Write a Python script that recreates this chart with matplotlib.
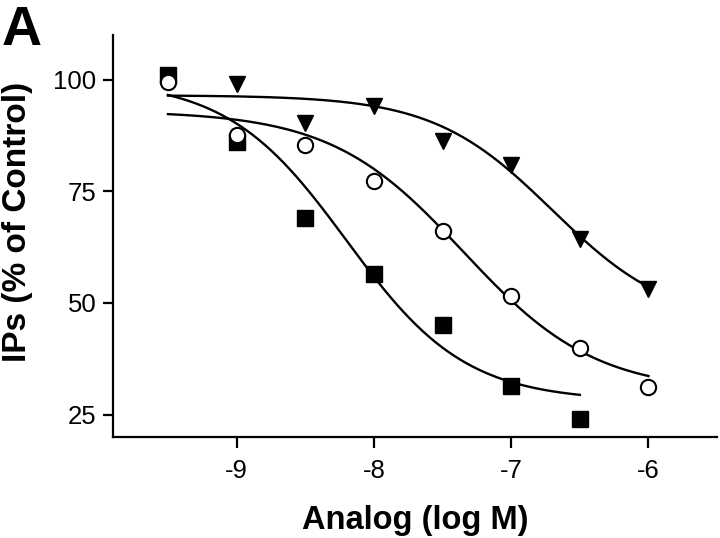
import numpy as np
import matplotlib
matplotlib.use("Agg")
import matplotlib.pyplot as plt

plt.rcParams['font.family'] = ['Liberation Sans', 'DejaVu Sans']
plt.rcParams['axes.unicode_minus'] = False

# measured points, log M vs % of control
x_sq = [-9.5, -9.0, -8.5, -8.0, -7.5, -7.0, -6.5]
y_sq = [101.0, 86.0, 69.0, 56.5, 45.0, 31.5, 24.0]

x_ci = [-9.5, -9.0, -8.5, -8.0, -7.5, -7.0, -6.5, -6.0]
y_ci = [99.5, 87.5, 85.3, 77.2, 66.2, 51.6, 40.0, 31.1]

x_tr = [-9.0, -8.5, -8.0, -7.5, -7.0, -6.5, -6.0]
y_tr = [99.0, 90.2, 94.2, 86.2, 80.8, 64.3, 53.2]

# fitted sigmoid params: top, bottom, logEC50, hill, x range
fit_sq = (100.0, 28.0, -8.2, 1.0, -9.5, -6.5)
fit_ci = (93.0, 30.0, -7.35, 0.9, -9.5, -6.0)
fit_tr = (96.5, 45.0, -6.7, 1.0, -9.5, -6.0)


def sigmoid(fit):
    top, bottom, c, h, x0, x1 = fit
    xx = np.linspace(x0, x1, 200)
    return xx, bottom + (top - bottom) / (1 + 10 ** ((xx - c) * h))


fig = plt.figure(figsize=(7.2, 5.38), dpi=100)
ax = fig.add_axes([0.157, 0.188, 0.839, 0.747])

for fit in (fit_sq, fit_ci, fit_tr):
    xx, yy = sigmoid(fit)
    ax.plot(xx, yy, color='black', lw=1.7, zorder=2)

ax.plot(x_sq, y_sq, 's', color='black', ms=11.5, zorder=3)
ax.plot(x_ci, y_ci, 'o', mfc='white', mec='black', mew=1.5, ms=11, zorder=3)
ax.plot(x_tr, y_tr, 'v', color='black', ms=11.5, zorder=3)

ax.set_xlim(-9.9, -5.5)
ax.set_ylim(20, 110)
ax.set_xticks([-9, -8, -7, -6])
ax.set_yticks([25, 50, 75, 100])

for s in ['top', 'right']:
    ax.spines[s].set_visible(False)
for s in ['left', 'bottom']:
    ax.spines[s].set_linewidth(1.6)

ax.tick_params(axis='x', length=8, width=1.6, pad=8, labelsize=18.5)
ax.tick_params(axis='y', length=7, width=1.6, pad=5, labelsize=18.5)

ax.set_xlabel('Analog (log M)', fontsize=23.5, fontweight='bold')
ax.set_ylabel('IPs (% of Control)', fontsize=24, fontweight='bold')
ax.xaxis.set_label_coords(0.5, -0.17)
ax.yaxis.set_label_coords(-0.132, 0.535)

fig.text(0.002, 0.99, 'A', fontsize=40, fontweight='bold', va='top', ha='left')

fig.savefig('out.png', dpi=100)
